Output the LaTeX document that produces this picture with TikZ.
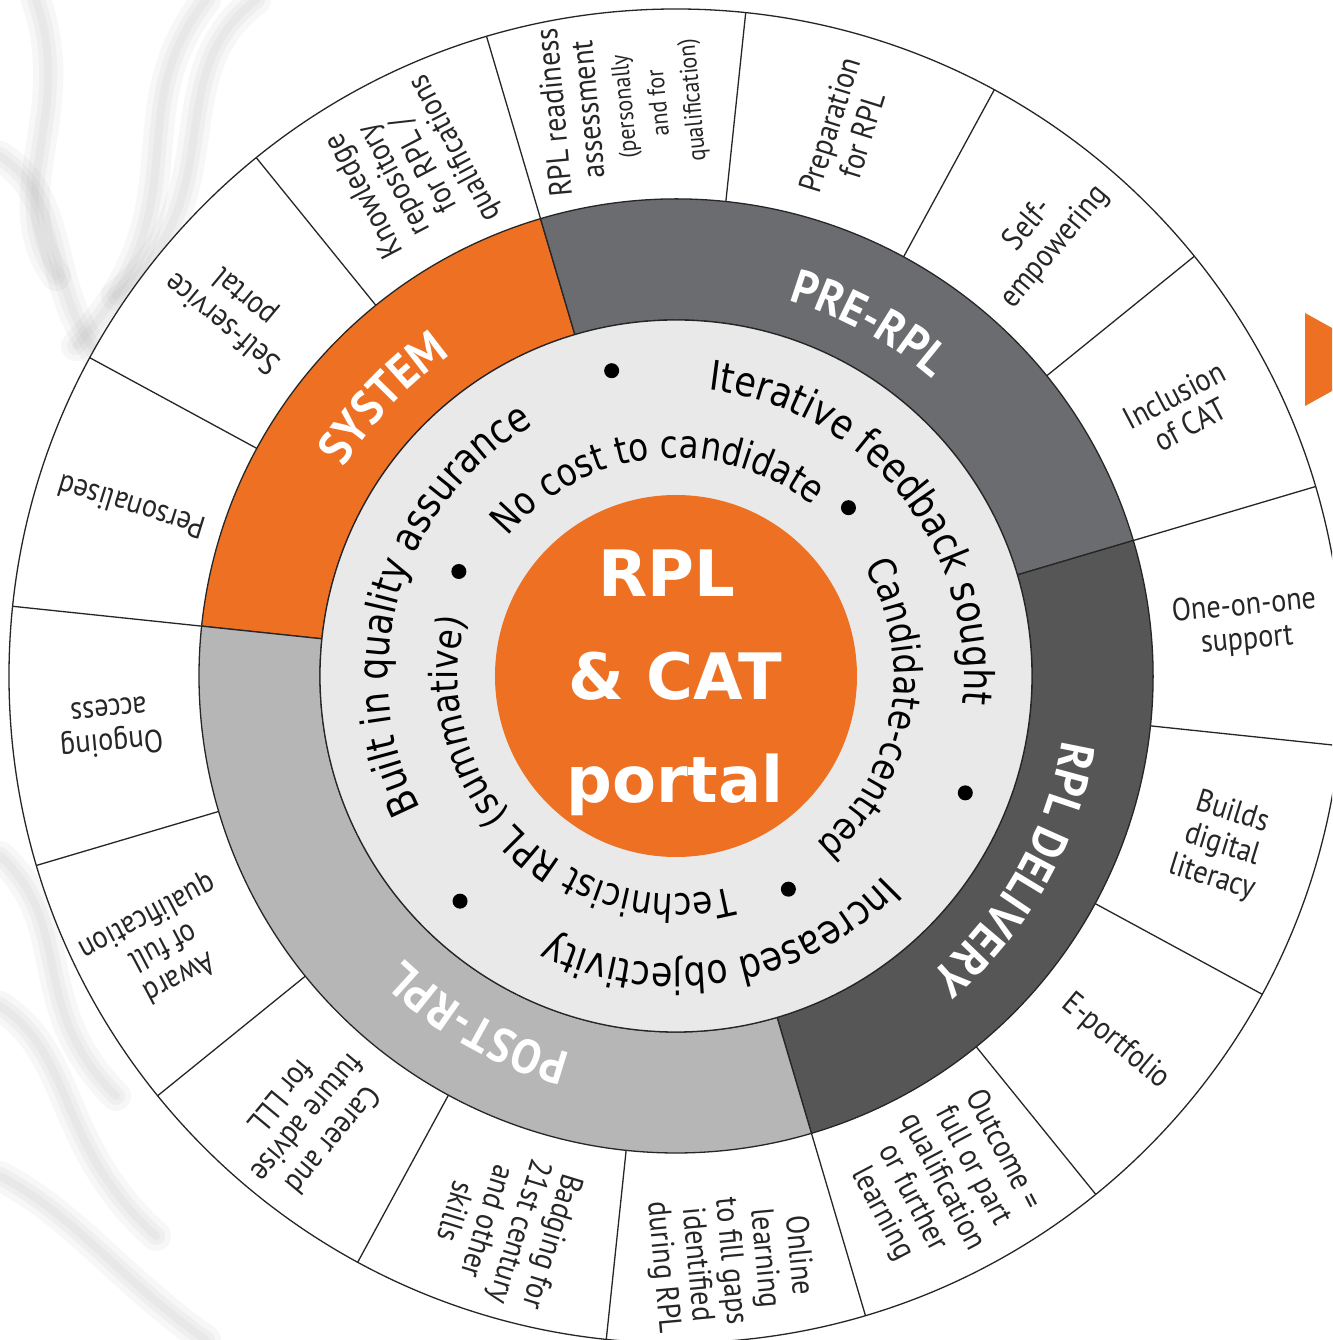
\documentclass[tikz,border=0pt]{standalone}
\usepackage{fontspec}
\setmainfont{PT Sans}
\newfontfamily\labfont[FakeStretch=0.88]{PT Sans}
\newfontfamily\ringlabfont[FakeStretch=0.92]{PT Sans}
\newfontfamily\innerfont[FakeStretch=0.85]{DejaVu Sans}
\newfontfamily\corefont{DejaVu Sans}
\usetikzlibrary{decorations.text}
\definecolor{rplorange}{HTML}{EE7023}
\definecolor{pregray}{HTML}{6B6C6F}
\definecolor{delgray}{HTML}{565657}
\definecolor{postgray}{HTML}{B6B6B6}
\definecolor{ringgray}{HTML}{E9E9E9}
\definecolor{edge}{HTML}{262626}
\definecolor{smoke}{HTML}{9A9A9A}
\newcommand\outerfnt{\labfont\fontsize{32}{34}\selectfont}
\newcommand\smallfnt{\fontsize{25}{27}\selectfont}
\newcommand\ringfnt{\ringlabfont\bfseries\fontsize{48}{48}\selectfont}
\newcommand\trackAfnt{\innerfont\fontsize{41}{41}\selectfont}
\newcommand\trackBfnt{\innerfont\fontsize{38.5}{38.5}\selectfont}
\newcommand\corefnt{\corefont\bfseries\fontsize{64}{103}\selectfont}
\newcommand\arclabel[5]{% mid angle, radius, font, colour, text
  \path[decorate, decoration={text along path, text align=center, text color=#4,
    text={|#3|#5}}] ({#1+110}:#2) arc[start angle={#1+110}, end angle={#1-110}, radius=#2];}
\newcommand\sector[3]{% colour, angle a, angle b
  \draw[edgeline, fill=#1] (#2:356) arc[start angle=#2, end angle=#3, radius=356]
    -- (#3:477) arc[start angle=#3, end angle=#2, radius=477] -- cycle;}
\begin{document}
\begin{tikzpicture}[x=1pt,y=1pt,
  edgeline/.style={draw=edge, line width=1.3pt},
  outerlabel/.style={font=\outerfnt, align=center, inner sep=0pt, text=black!85},
  dotmark/.style={circle, fill=black, inner sep=0pt, minimum size=15pt},
  wisp/.style={draw=smoke, line cap=round, draw opacity=0.08}]
\useasboundingbox (-676,-664) rectangle (656,676);
\clip (-676,-664) rectangle (656,676);
\fill[white] (-676,-664) rectangle (656,676);
% faint smoke in the background at the left
\foreach \w in {30,18,8} {
\draw[wisp, line width=\w pt] (-470,676) .. controls (-560,560) and (-470,470) .. (-600,330);
\draw[wisp, line width=\w pt] (-420,676) .. controls (-520,600) and (-440,480) .. (-560,380);
\draw[wisp, line width=\w pt] (-676,520) .. controls (-600,470) and (-640,380) .. (-560,300);
\draw[wisp, line width=\w pt] (-640,676) .. controls (-600,560) and (-676,480) .. (-620,400);
\draw[wisp, line width=\w pt] (-676,-180) .. controls (-600,-250) and (-650,-330) .. (-560,-420);
\draw[wisp, line width=\w pt] (-676,-330) .. controls (-600,-380) and (-620,-470) .. (-520,-560);
\draw[wisp, line width=\w pt] (-676,-500) .. controls (-600,-540) and (-560,-600) .. (-470,-664);
}
% arrow head at the right border
\fill[rplorange] (629,363) -- (713,316.5) -- (629,270) -- cycle;
% outer ring
\draw[edgeline, fill=white] (0,0) circle[radius=667];
\foreach \k in {0,...,15} {\draw[edgeline] ({106.5-22.5*\k}:477) -- ({106.5-22.5*\k}:667);}
% phase ring
\sector{rplorange}{106.5}{174}
\sector{pregray}{16.5}{106.5}
\sector{delgray}{-73.5}{16.5}
\sector{postgray}{174}{286.5}
% principle ring
\draw[edgeline, fill=ringgray] (0,0) circle[radius=356];
% core
\node[circle, fill=rplorange, minimum size=362pt, inner sep=0pt] (core) at (0,0) {};
\node[font=\corefnt, text=white, align=center, inner sep=0pt] (coretext) at (-1,-7) {RPL\hspace*{16pt}\\\& CAT\hspace*{16pt}\\portal};
% phase labels
\arclabel{136.5}{392}{\ringfnt}{white}{SYSTEM}
\arclabel{61.3}{392}{\ringfnt}{white}{PRE-RPL}
\arclabel{-29.6}{392}{\ringfnt}{white}{RPL DELIVERY}
\arclabel{-119.7}{392}{\ringfnt}{white}{POST-RPL}
% principles
\arclabel{163.5}{288}{\trackAfnt}{black}{Built in quality assurance}
\arclabel{38.9}{288}{\trackAfnt}{black}{Iterative feedback sought}
\arclabel{-80}{288}{\trackAfnt}{black}{Increased objectivity}
\arclabel{95.8}{218}{\trackBfnt}{black}{No cost to candidate}
\arclabel{-10}{218}{\trackBfnt}{black}{Candidate-centred}
\arclabel{-135.2}{218}{\trackBfnt}{black}{Technicist RPL (summative)}
\node[dotmark] (d1) at (101.9:312) {};
\node[dotmark] (d2) at (-22:312) {};
\node[dotmark] (d3) at (-133.8:312) {};
\node[dotmark] (d4) at (44.3:241) {};
\node[dotmark] (d5) at (-62.2:241) {};
\node[dotmark] (d6) at (154.3:241) {};
% outer labels
\node[outerlabel, rotate=117.75] (knowledge) at (117.75:570) {Knowledge\\repository\\for RPL /\\qualifications};
\node[outerlabel, rotate=95.25] (readiness) at (95.25:572) {RPL readiness\\assessment\\{\smallfnt (personally}\\{\smallfnt and for}\\{\smallfnt qualification)}};
\node[outerlabel, rotate=72.75] (preparation) at (72.75:572) {Preparation\\for RPL};
\node[outerlabel, rotate=50.25] (selfemp) at (50.25:572) {Self-\\empowering};
\node[outerlabel, rotate=27.75] (inclusion) at (27.75:572) {Inclusion\\of CAT};
\node[outerlabel, rotate=5.25] (oneonone) at (5.25:572) {One-on-one\\support};
\node[outerlabel, rotate=-17.25] (builds) at (-17.25:572) {Builds\\digital\\literacy};
\node[outerlabel, rotate=-39.75] (eport) at (-39.75:572) {E-portfolio};
\node[outerlabel, rotate=-62.25] (outcome) at (-62.25:572) {Outcome =\\full or part\\qualification\\or further\\learning};
\node[outerlabel, rotate=-84.75] (online) at (-84.75:588) {Online\\learning\\to fill gaps\\identified\\during RPL};
\node[outerlabel, rotate=-107.25] (badging) at (-107.25:577) {Badging for\\21st century\\and other\\skills};
\node[outerlabel, rotate=-129.75] (career) at (-129.75:576) {Career and\\future advise\\for LLL};
\node[outerlabel, rotate=-152.25] (award) at (-152.25:580) {Award\\of full\\qualification};
\node[outerlabel, rotate=-174.75] (ongoing) at (-174.75:568) {Ongoing\\access};
\node[outerlabel, rotate=162.75] (personal) at (162.75:570) {Personalised};
\node[outerlabel, rotate=140.25] (selfserv) at (140.25:574) {Self-service\\portal};
\end{tikzpicture}
\end{document}
